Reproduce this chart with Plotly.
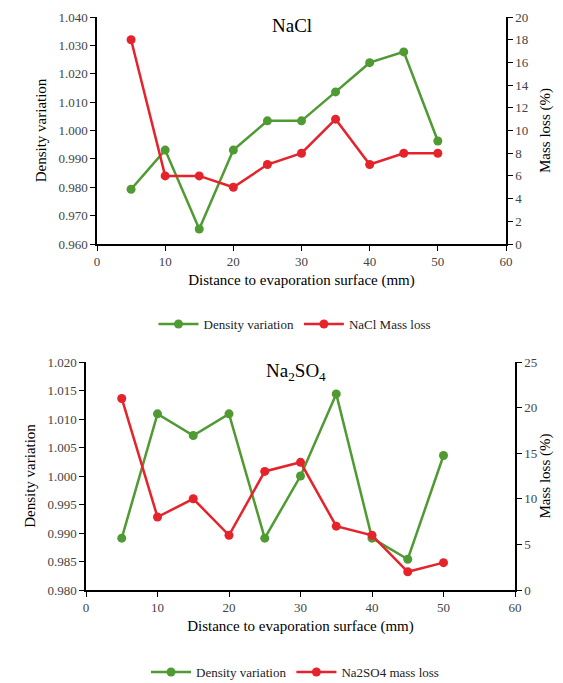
import plotly.graph_objects as go
from plotly.subplots import make_subplots

distance = [5, 10, 15, 20, 25, 30, 35, 40, 45, 50]

nacl_density = [0.9793, 0.9931, 0.9653, 0.9931, 1.0034, 1.0034, 1.0136, 1.0239, 1.0277, 0.9963]
nacl_mass_loss = [18, 6, 6, 5, 7, 8, 11, 7, 8, 8]

na2so4_density = [0.9891, 1.0109, 1.0071, 1.0109, 0.9891, 1.0000, 1.0144, 0.9891, 0.9854, 1.0036]
na2so4_mass_loss = [21, 8, 10, 6, 13, 14, 7, 6, 2, 3]

GREEN = "#4f9a32"
RED = "#e5232b"
FONT = "Liberation Serif, Times New Roman, serif"
OFF = 8  # page body margin
W, H = 563 - OFF, 683 - OFF

fig = make_subplots(rows=2, cols=1, specs=[[{"secondary_y": True}], [{"secondary_y": True}]])

def add_pair(row, dens, loss, loss_name, legend):
    fig.add_trace(go.Scatter(x=distance, y=dens, name="Density variation", mode="lines+markers",
                             line=dict(color=GREEN, width=2.5), marker=dict(color=GREEN, size=9),
                             legend=legend), row=row, col=1, secondary_y=False)
    fig.add_trace(go.Scatter(x=distance, y=loss, name=loss_name, mode="lines+markers",
                             line=dict(color=RED, width=2.5), marker=dict(color=RED, size=9),
                             legend=legend), row=row, col=1, secondary_y=True)

add_pair(1, nacl_density, nacl_mass_loss, "NaCl Mass loss", "legend")
add_pair(2, na2so4_density, na2so4_mass_loss, "Na2SO4 mass loss", "legend2")

def px_x(v):
    return (v - OFF) / W

def px_y(v):
    return 1 - (v - OFF) / H

axis_common = dict(showline=True, linecolor="black", linewidth=1.5, ticks="outside", ticklen=5,
                   tickcolor="black", showgrid=False, zeroline=False, automargin=False,
                   tickfont=dict(family=FONT, size=13, color="#444"),
                   title_font=dict(family=FONT, size=15, color="black"))

fig.update_layout(
    xaxis=dict(domain=[px_x(97), px_x(506)], range=[0, 60], dtick=10, anchor="y",
               title=dict(text="Distance to evaporation surface (mm)", standoff=6), **axis_common),
    yaxis=dict(domain=[px_y(244), px_y(17)], range=[0.960, 1.040], dtick=0.01, tickformat=".3f",
               anchor="x", title=dict(text="Density variation", standoff=8), **axis_common),
    yaxis2=dict(range=[0, 20], dtick=2, overlaying="y", side="right", anchor="x",
                title=dict(text="Mass loss (%)", standoff=12), **axis_common),
    xaxis2=dict(domain=[px_x(86), px_x(515)], range=[0, 60], dtick=10, anchor="y3",
                title=dict(text="Distance to evaporation surface (mm)", standoff=6), **axis_common),
    yaxis3=dict(domain=[px_y(590), px_y(362)], range=[0.980, 1.020], dtick=0.005, tickformat=".3f",
                anchor="x2", title=dict(text="Density variation", standoff=8), **axis_common),
    yaxis4=dict(range=[0, 25], dtick=5, overlaying="y3", side="right", anchor="x2",
                title=dict(text="Mass loss (%)", standoff=3), **axis_common),
)

fig.update_layout(
    width=W, height=H,
    margin=dict(l=0, r=0, t=0, b=0, autoexpand=False),
    paper_bgcolor="white", plot_bgcolor="white",
    font=dict(family=FONT, color="black"),
    legend=dict(orientation="h", x=px_x(295), xanchor="center", y=px_y(324), yanchor="middle",
                font=dict(family=FONT, size=13, color="#222"), itemwidth=40,
                bgcolor="rgba(0,0,0,0)"),
    legend2=dict(orientation="h", x=px_x(295), xanchor="center", y=px_y(672), yanchor="middle",
                 font=dict(family=FONT, size=13, color="#222"), itemwidth=40,
                 bgcolor="rgba(0,0,0,0)"),
    annotations=[
        dict(text="NaCl", x=px_x(292), y=px_y(26), xref="paper", yref="paper", showarrow=False,
             xanchor="center", yanchor="middle",
             font=dict(family=FONT, size=19, color="black")),
        dict(text="Na<sub>2</sub>SO<sub>4</sub>", x=px_x(296), y=px_y(372), xref="paper", yref="paper",
             xanchor="center", yanchor="middle",
             showarrow=False, font=dict(family=FONT, size=19, color="black")),
    ],
)

fig.write_html("out.html")
